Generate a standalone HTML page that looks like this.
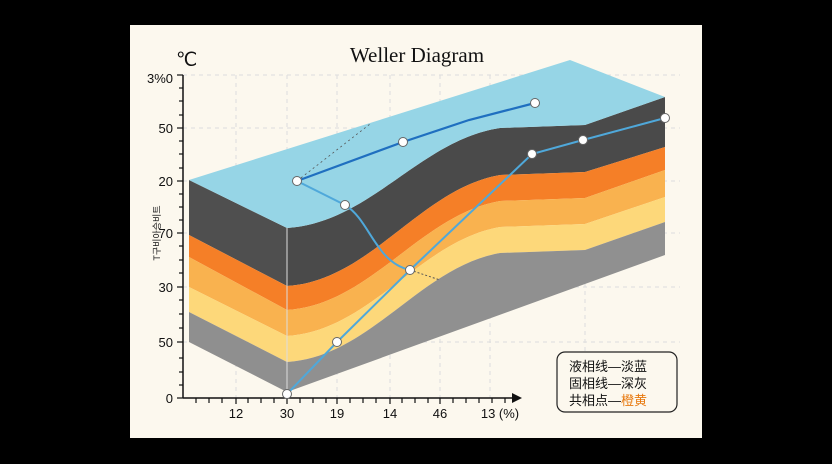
<!DOCTYPE html>
<html><head><meta charset="utf-8"><style>
body{margin:0;background:#000;width:832px;height:464px;overflow:hidden}
svg{display:block}
</style></head><body>
<svg width="832" height="464" viewBox="0 0 832 464" xmlns="http://www.w3.org/2000/svg" font-family="Liberation Sans, sans-serif">
<rect x="0" y="0" width="832" height="464" fill="#000"/>
<rect x="130" y="25" width="572" height="413" fill="#fcf8ee"/>
<text x="417" y="62" text-anchor="middle" font-family="Liberation Serif, serif" font-size="21" fill="#111">Weller Diagram</text>
<text x="176" y="66" font-size="19" fill="#111">℃</text>
<g stroke="#ddd" stroke-dasharray="4,4" stroke-width="1">
<line x1="236" y1="75" x2="236" y2="398"/><line x1="287" y1="75" x2="287" y2="398"/><line x1="337" y1="75" x2="337" y2="398"/><line x1="390" y1="75" x2="390" y2="398"/><line x1="440" y1="75" x2="440" y2="398"/><line x1="490" y1="75" x2="490" y2="398"/><line x1="585" y1="75" x2="585" y2="398"/>
<line x1="183" y1="75" x2="680" y2="75"/><line x1="183" y1="128" x2="680" y2="128"/><line x1="183" y1="181" x2="680" y2="181"/><line x1="183" y1="233" x2="680" y2="233"/><line x1="183" y1="287" x2="680" y2="287"/><line x1="183" y1="342" x2="680" y2="342"/>
</g>
<!-- left face -->
<polygon points="189,180 287,228 287,286 189,235" fill="#4f4f4f"/>
<polygon points="189,235 287,286 287,310 189,257" fill="#f57f27"/>
<polygon points="189,257 287,310 287,336 189,287" fill="#f9b24f"/>
<polygon points="189,287 287,336 287,362 189,312" fill="#fdd87a"/>
<polygon points="189,312 287,362 287,392 189,342" fill="#8f8f8f"/>
<!-- front face -->
<path d="M287,228 C370,223 420,140 500,128 L585,125 L665,97 L665,147 L585,172 L500,175 C420,189 370,281 287,286 Z" fill="#4a4a4a"/>
<path d="M287,286 C370,281 420,189 500,175 L585,172 L665,147 L665,170 L585,198 L500,201 C420,215 370,305 287,310 Z" fill="#f57f27"/>
<path d="M287,310 C370,305 420,215 500,201 L585,198 L665,170 L665,197 L585,224 L500,227 C420,241 370,331 287,336 Z" fill="#f9b24f"/>
<path d="M287,336 C370,331 420,241 500,227 L585,224 L665,197 L665,222 L585,250 L500,253 C420,267 370,357 287,362 Z" fill="#fdd87a"/>
<path d="M287,362 C370,357 420,267 500,253 L585,250 L665,222 L665,255 L287,392 Z" fill="#909090"/>
<!-- top face -->
<path d="M189,180 L570,60 L665,97 L585,125 L500,128 C420,140 370,223 287,228 Z" fill="#96d5e6"/>
<line x1="287" y1="228" x2="287" y2="392" stroke="#ddd" stroke-width="1"/>
<!-- axes -->
<line x1="183" y1="75" x2="183" y2="398" stroke="#111" stroke-width="1.5"/>
<line x1="183" y1="398" x2="515" y2="398" stroke="#111" stroke-width="1.5"/>
<polygon points="522,398 512,393 512,403" fill="#111"/>
<g stroke="#111" stroke-width="1.2">
<line x1="177" y1="398" x2="183" y2="398"/><line x1="179" y1="385" x2="183" y2="385"/><line x1="179" y1="372" x2="183" y2="372"/><line x1="179" y1="358" x2="183" y2="358"/><line x1="177" y1="342" x2="183" y2="342"/><line x1="179" y1="328" x2="183" y2="328"/><line x1="179" y1="314" x2="183" y2="314"/><line x1="179" y1="300" x2="183" y2="300"/><line x1="177" y1="287" x2="183" y2="287"/><line x1="179" y1="273" x2="183" y2="273"/><line x1="179" y1="260" x2="183" y2="260"/><line x1="179" y1="246" x2="183" y2="246"/><line x1="177" y1="233" x2="183" y2="233"/><line x1="179" y1="220" x2="183" y2="220"/><line x1="179" y1="207" x2="183" y2="207"/><line x1="179" y1="194" x2="183" y2="194"/><line x1="177" y1="181" x2="183" y2="181"/><line x1="179" y1="168" x2="183" y2="168"/><line x1="179" y1="154" x2="183" y2="154"/><line x1="179" y1="141" x2="183" y2="141"/><line x1="177" y1="128" x2="183" y2="128"/><line x1="179" y1="115" x2="183" y2="115"/><line x1="179" y1="101" x2="183" y2="101"/><line x1="179" y1="88" x2="183" y2="88"/><line x1="177" y1="75" x2="183" y2="75"/>
<line x1="196" y1="398" x2="196" y2="403"/><line x1="209" y1="398" x2="209" y2="403"/><line x1="222" y1="398" x2="222" y2="403"/><line x1="236" y1="398" x2="236" y2="404"/><line x1="248" y1="398" x2="248" y2="403"/><line x1="261" y1="398" x2="261" y2="403"/><line x1="274" y1="398" x2="274" y2="403"/><line x1="287" y1="398" x2="287" y2="404"/><line x1="300" y1="398" x2="300" y2="403"/><line x1="313" y1="398" x2="313" y2="403"/><line x1="326" y1="398" x2="326" y2="403"/><line x1="337" y1="398" x2="337" y2="404"/><line x1="350" y1="398" x2="350" y2="403"/><line x1="363" y1="398" x2="363" y2="403"/><line x1="376" y1="398" x2="376" y2="403"/><line x1="390" y1="398" x2="390" y2="404"/><line x1="402" y1="398" x2="402" y2="403"/><line x1="415" y1="398" x2="415" y2="403"/><line x1="428" y1="398" x2="428" y2="403"/><line x1="440" y1="398" x2="440" y2="404"/><line x1="453" y1="398" x2="453" y2="403"/><line x1="466" y1="398" x2="466" y2="403"/><line x1="479" y1="398" x2="479" y2="403"/><line x1="492" y1="398" x2="492" y2="403"/><line x1="505" y1="398" x2="505" y2="403"/>
</g>
<g font-size="13" fill="#111" text-anchor="end">
<text x="173" y="83">3%0</text><text x="173" y="133">50</text><text x="173" y="186">20</text><text x="173" y="238">70</text><text x="173" y="292">30</text><text x="173" y="347">50</text><text x="173" y="403">0</text>
</g>
<g font-size="13" fill="#111" text-anchor="middle">
<text x="236" y="418">12</text><text x="287" y="418">30</text><text x="337" y="418">19</text><text x="390" y="418">14</text><text x="440" y="418">46</text><text x="500" y="418">13 (%)</text>
</g>
<text transform="translate(160,233) rotate(-90)" font-size="9" text-anchor="middle" fill="#111" font-family="Liberation Sans, Noto Sans CJK KR, sans-serif">T구비아승비트</text>
<!-- lines -->
<line x1="297" y1="181" x2="370" y2="124" stroke="#555" stroke-width="0.8" stroke-dasharray="2,3"/>
<polyline points="297,181 403,142 469,120 535,103" fill="none" stroke="#1f6fc0" stroke-width="2.2"/>
<path d="M297,181 L345,205 C370,220 375,262 410,270" fill="none" stroke="#4fa8da" stroke-width="2"/>
<line x1="410" y1="270" x2="440" y2="280" stroke="#555" stroke-width="1" stroke-dasharray="2,2"/>
<polyline points="287,394 337,342 410,270 532,154 583,140 665,118" fill="none" stroke="#4fa8da" stroke-width="2"/>
<g fill="#fff" stroke="#666" stroke-width="1">
<circle cx="297" cy="181" r="4.5"/><circle cx="403" cy="142" r="4.5"/><circle cx="535" cy="103" r="4.5"/><circle cx="345" cy="205" r="4.5"/><circle cx="410" cy="270" r="4.5"/><circle cx="287" cy="394" r="4.5"/><circle cx="337" cy="342" r="4.5"/><circle cx="532" cy="154" r="4.5"/><circle cx="583" cy="140" r="4.5"/><circle cx="665" cy="118" r="4.5"/>
</g>
<!-- legend -->
<rect x="557" y="352" width="120" height="60" rx="8" fill="#fcf8ee" stroke="#222" stroke-width="1.2"/>
<g font-size="13" fill="#111" font-family="Liberation Sans, Noto Sans CJK SC, sans-serif">
<text x="569" y="371">液相线—淡蓝</text>
<text x="569" y="388">固相线—深灰</text>
<text x="569" y="405">共相点—<tspan fill="#e87a10">橙黄</tspan></text>
</g>
</svg>
</body></html>
